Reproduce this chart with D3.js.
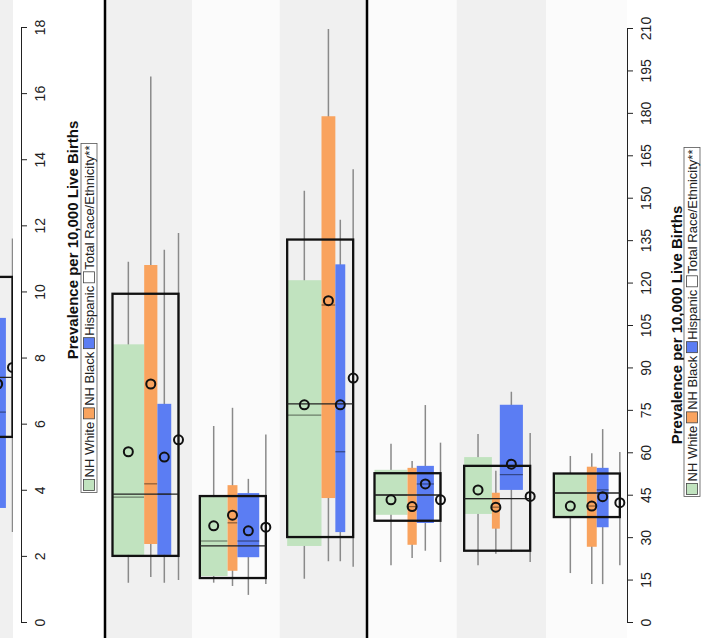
<!DOCTYPE html>
<html>
<head>
<meta charset="utf-8">
<script src="https://cdn.jsdelivr.net/npm/d3@7"></script>
<style>
  body { margin: 0; background: #fff; }
  text { font-family: "Liberation Sans", Arial, sans-serif; }
</style>
</head>
<body>
<div id="chart"></div>
<script>
// group ids (the group labels are cut off in the picture)
var prevGroups = ["p3"];
var midGroups = ["m1", "m2", "m3"];
var rightGroups = ["r1", "r2", "r3"];

var leftTicks = [0, 2, 4, 6, 8, 10, 12, 14, 16, 18];
var rightTicks = [0, 15, 30, 45, 60, 75, 90, 105, 120, 135, 150, 165, 180, 195, 210];

var seriesNames = ["NH White", "NH Black", "Hispanic", "Total Race/Ethnicity**"];
var seriesColors = ["#c1e3bf", "#f9a35e", "#5b7df3", "#ffffff"];

// each row: min, q1, median, q3, max, mean  (null = not visible)
var prevWhite = [null];
var prevBlack = [null];
var prevHispanic = [[null, 3.45, 6.35, 9.2, null, 7.2]];
var prevTotal = [[2.72, 5.6, 7.4, 10.44, 11.6, 7.7]];

var midWhite = [[1.19, 2.03, 3.78, 8.4, 10.9, 5.15], [1.19, 1.39, 2.45, 3.78, 5.93, 2.91], [1.31, 2.3, 6.26, 10.34, 13.05, 6.57]];
var midBlack = [[1.36, 2.36, 4.18, 10.8, 16.5, 7.2], [1.09, 1.55, 3.0, 4.14, 6.48, 3.23], [1.84, 3.75, 9.59, 15.3, 17.94, 9.72]];
var midHispanic = [[1.19, 2.03, 3.87, 6.6, 11.26, 4.99], [0.82, 1.96, 2.45, 3.9, 4.33, 2.76], [1.84, 2.72, 5.15, 10.82, 12.17, 6.57]];
var midTotal = [[1.27, 2.0, 3.87, 9.93, 11.77, 5.51], [1.15, 1.33, 2.3, 3.81, 5.67, 2.87], [1.67, 2.57, 6.6, 11.57, 13.7, 7.38]];

var rightWhite = [[20.1, 37.9, 44.9, 53.8, 63.0, 43.2], [20.1, 38.2, 43.6, 58.3, 66.5, 46.7], [17.3, 37.1, 45.6, 52.5, 58.7, 41.0]];
var rightBlack = [[22.6, 27.3, 40.8, 54.5, 56.9, 40.8], [24.1, 33.0, 40.6, 45.7, 53.5, 40.6], [13.4, 26.6, 41.0, 54.9, 59.7, 41.0]];
var rightHispanic = [[25.2, 35.0, 48.8, 55.2, 76.7, 48.8], [24.8, 46.7, 52.1, 76.8, 81.4, 55.8], [13.4, 33.5, 46.7, 54.5, 68.2, 44.3]];
var rightTotal = [[21.2, 35.8, 44.9, 52.6, 63.4, 43.2], [21.2, 25.2, 43.6, 55.2, 66.8, 44.4], [20.1, 37.1, 45.6, 52.5, 60.1, 42.2]];

// relative sample size: share of the total box width for white, black, hispanic
var prevShare = [[0.45, 0.2, 0.25]];
var midShare = [[0.48, 0.2, 0.21], [0.42, 0.15, 0.33], [0.52, 0.21, 0.15]];
var rightShare = [[0.5, 0.14, 0.26], [0.42, 0.12, 0.35], [0.5, 0.15, 0.18]];

var width = 703, height = 638;

var svg = d3.select("#chart").append("svg")
    .attr("width", width)
    .attr("height", height);

var yLeft = d3.scaleLinear().domain([0, 18]).range([622, 27]);
var yRight = d3.scaleLinear().domain([0, 210]).range([622, 28]);

var bandCount = 0;

function drawPanel(groups, range, y, rows, shares) {
    var x = d3.scaleBand().domain(groups).range(range);
    var g = svg.append("g");

    groups.forEach(function(grp, i) {
        var b = x(grp);
        var left = b + 7.5;
        var tw = 66;
        var sh = shares[i];
        var xs = [left, left + sh[0] * tw, left + (sh[0] + sh[1]) * tw];
        var ws = [sh[0] * tw, sh[1] * tw, sh[2] * tw];

        // background band
        g.append("rect")
            .attr("x", b).attr("y", 0)
            .attr("width", x.bandwidth()).attr("height", height)
            .attr("fill", bandCount % 2 == 0 ? "#fbfbfb" : "#f0f0f0");
        bandCount++;

        // whiskers
        rows.forEach(function(rowSet, s) {
            var d = rowSet[i];
            if (!d || d[0] == null) return;
            var cx = s < 3 ? xs[s] + ws[s] / 2 : left + tw;
            g.append("line")
                .attr("x1", cx).attr("x2", cx)
                .attr("y1", y(d[0])).attr("y2", y(d[4]))
                .attr("stroke", "#8a8a8a").attr("stroke-width", 1.5);
        });

        // coloured boxes with medians
        for (var s = 0; s < 3; s++) {
            var d = rows[s][i];
            if (!d) continue;
            g.append("rect")
                .attr("x", xs[s]).attr("y", y(d[3]))
                .attr("width", ws[s]).attr("height", y(d[1]) - y(d[3]))
                .attr("fill", seriesColors[s]);
            g.append("line")
                .attr("x1", xs[s]).attr("x2", xs[s] + ws[s])
                .attr("y1", y(d[2])).attr("y2", y(d[2]))
                .attr("stroke", "rgba(0,0,0,0.45)").attr("stroke-width", 1.2);
        }

        // total box outline
        var t = rows[3][i];
        g.append("rect")
            .attr("x", left).attr("y", y(t[3]))
            .attr("width", tw).attr("height", y(t[1]) - y(t[3]))
            .attr("fill", "none").attr("stroke", "#111").attr("stroke-width", 2.3);
        g.append("line")
            .attr("x1", left).attr("x2", left + tw)
            .attr("y1", y(t[2])).attr("y2", y(t[2]))
            .attr("stroke", "#222").attr("stroke-width", 1.3);

        // means
        rows.forEach(function(rowSet, s) {
            var d = rowSet[i];
            if (!d) return;
            var cx = s < 3 ? xs[s] + ws[s] / 2 : left + tw;
            g.append("circle")
                .attr("cx", cx).attr("cy", y(d[5])).attr("r", 4.5)
                .attr("fill", "none").attr("stroke", "#111").attr("stroke-width", 2);
        });
    });
}

bandCount = 1;
drawPanel(prevGroups, [-61, 26], yLeft, [prevWhite, prevBlack, prevHispanic, prevTotal], prevShare);
// plain background behind left axis area
svg.append("rect").attr("x", 13).attr("y", 0).attr("width", 92).attr("height", height).attr("fill", "#fff");

bandCount = 1;
drawPanel(midGroups, [105, 367], yLeft, [midWhite, midBlack, midHispanic, midTotal], midShare);
bandCount = 0;
drawPanel(rightGroups, [367, 636], yRight, [rightWhite, rightBlack, rightHispanic, rightTotal], rightShare);
svg.append("rect").attr("x", 627).attr("y", 0).attr("width", 76).attr("height", height).attr("fill", "#fff");

// panel borders
[105, 367].forEach(function(px) {
    svg.append("line")
        .attr("x1", px).attr("x2", px).attr("y1", 0).attr("y2", height)
        .attr("stroke", "#000").attr("stroke-width", 2.5);
});

// axes
function drawAxis(scale, ticks, xpos) {
    var ax = svg.append("g")
        .attr("transform", "translate(" + xpos + ",0)")
        .call(d3.axisRight(scale).tickValues(ticks).tickSize(6).tickSizeOuter(0));
    ax.select(".domain").attr("stroke", "#222");
    ax.selectAll(".tick line").attr("stroke", "#222");
    ax.selectAll(".tick text")
        .attr("x", null).attr("dy", null)
        .attr("text-anchor", "middle")
        .attr("dominant-baseline", "central")
        .attr("transform", "translate(19,0) rotate(-90)")
        .attr("font-size", 14)
        .attr("fill", "#222");
}
drawAxis(yLeft, leftTicks, 21);
drawAxis(yRight, rightTicks, 627);

// titles
function drawTitle(cx, cy) {
    svg.append("text")
        .attr("transform", "translate(" + cx + "," + cy + ") rotate(-90)")
        .attr("text-anchor", "middle")
        .attr("dominant-baseline", "central")
        .attr("font-size", 15)
        .attr("font-weight", "bold")
        .attr("fill", "#111")
        .text("Prevalence per 10,000 Live Births");
}
drawTitle(72, 240);
drawTitle(676, 325);

// legends
function drawLegend(cx, cy) {
    var lg = svg.append("g")
        .attr("transform", "translate(" + cx + "," + cy + ") rotate(-90)");
    var border = lg.append("rect");
    var pos = 0;
    seriesNames.forEach(function(name, i) {
        lg.append("rect")
            .attr("x", pos).attr("y", -5.5)
            .attr("width", 11).attr("height", 11)
            .attr("fill", seriesColors[i])
            .attr("stroke", "#444").attr("stroke-width", 0.8);
        var t = lg.append("text")
            .attr("x", pos + 13).attr("y", 0)
            .attr("dominant-baseline", "central")
            .attr("font-size", 13)
            .attr("fill", "#222")
            .text(name);
        pos += 13 + t.node().getComputedTextLength() + 3;
    });
    var total = pos - 3;
    lg.selectAll("rect:not(:first-child), text")
        .attr("transform", "translate(" + (-total / 2) + ",0)");
    border.attr("x", -total / 2 - 2).attr("y", -8)
        .attr("width", total + 4).attr("height", 16)
        .attr("fill", "#fff").attr("stroke", "#555").attr("stroke-width", 0.8);
}
drawLegend(89, 318);
drawLegend(692, 322);
</script>
</body>
</html>
